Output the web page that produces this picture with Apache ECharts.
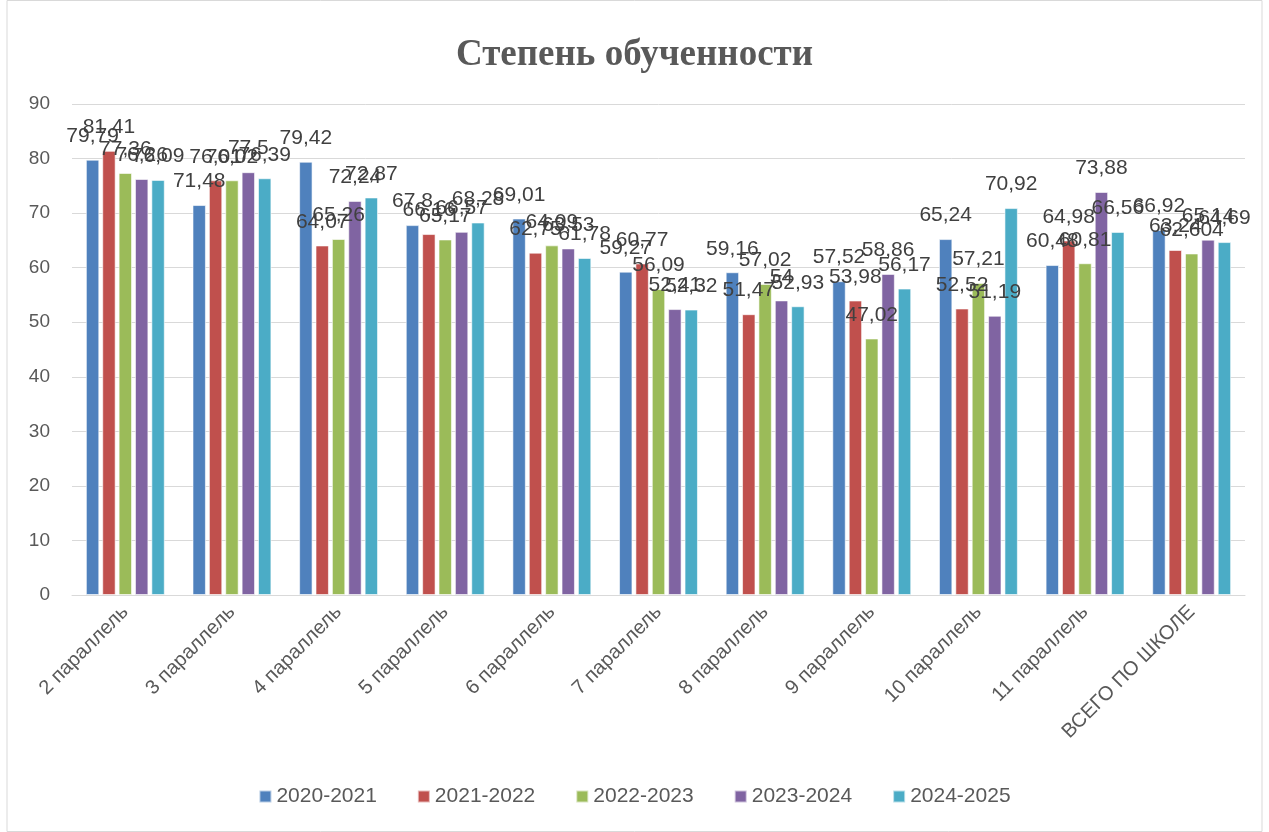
<!DOCTYPE html>
<html lang="ru">
<head>
    <meta charset="UTF-8"/>
    <script src="https://cdn.jsdelivr.net/npm/echarts@6/dist/echarts.min.js"></script>
    <title>Степень обученности</title>
    <style>
        html, body { margin: 0; padding: 0; background: #fff; }
        #chart { width: 1269px; height: 832px; }
    </style>
</head>
<body>
<div id="chart"></div>
<script type="text/javascript">
    var categories = ['2 параллель', '3 параллель', '4 параллель', '5 параллель', '6 параллель',
        '7 параллель', '8 параллель', '9 параллель', '10 параллель', '11 параллель', 'ВСЕГО ПО ШКОЛЕ'];
    var years = ['2020-2021', '2021-2022', '2022-2023', '2023-2024', '2024-2025'];
    var y2020 = [79.79, 71.48, 79.42, 67.8, 69.01, 59.27, 59.16, 57.52, 65.24, 60.48, 66.92];
    var y2021 = [81.41, 76.01, 64.07, 66.16, 62.75, 60.77, 51.47, 53.98, 52.52, 64.98, 63.24];
    var y2022 = [77.36, 76.02, 65.26, 65.17, 64.09, 56.09, 57.02, 47.02, 57.21, 60.81, 62.604];
    var y2023 = [76.26, 77.5, 72.24, 66.57, 63.53, 52.41, 54, 58.86, 51.19, 73.88, 65.14];
    var y2024 = [76.09, 76.39, 72.87, 68.28, 61.78, 52.32, 52.93, 56.17, 70.92, 66.56, 64.69];
    var colors = ['#4F81BD', '#C0504D', '#9BBB59', '#8064A2', '#4BACC6'];

    var allValues = [y2020, y2021, y2022, y2023, y2024];
    var series = [];
    for (var i = 0; i < years.length; i++) {
        series.push({
            name: years[i],
            type: 'bar',
            data: allValues[i],
            barGap: '22%',
            barCategoryGap: '26%',
            itemStyle: { color: colors[i], borderColor: 'rgba(255,255,255,0.6)', borderWidth: 1 },
            label: {
                show: true,
                position: 'top',
                distance: 13,
                fontFamily: 'Liberation Sans',
                fontSize: 21,
                color: '#404040',
                formatter: function (p) { return String(p.value).replace('.', ','); }
            }
        });
    }

    var myChart = echarts.init(document.getElementById('chart'));
    var option = {
        backgroundColor: '#fff',
        animation: false,
        color: colors,
        title: {
            text: 'Степень обученности',
            left: 'center',
            top: 32,
            textStyle: {
                fontFamily: 'Liberation Serif',
                fontWeight: 'bold',
                fontSize: 37,
                color: '#595959'
            }
        },
        graphic: [{
            type: 'rect',
            shape: { x: 7, y: 0.5, width: 1255, height: 831 },
            style: { fill: 'none', stroke: '#d9d9d9', lineWidth: 1 },
            silent: true
        }],
        legend: {
            bottom: 20,
            left: 'center',
            itemWidth: 12,
            itemHeight: 12,
            itemGap: 40,
            icon: 'rect',
            textStyle: { fontFamily: 'Liberation Sans', fontSize: 21, color: '#595959' },
            data: years
        },
        grid: { left: 72, right: 24, top: 104, bottom: 237 },
        xAxis: {
            type: 'category',
            data: categories,
            axisLine: { lineStyle: { color: '#d9d9d9', width: 1 } },
            axisTick: { show: false },
            axisLabel: {
                rotate: 45,
                interval: 0,
                margin: 14,
                fontFamily: 'Liberation Sans',
                fontSize: 20,
                color: '#595959'
            }
        },
        yAxis: {
            type: 'value',
            min: 0,
            max: 90,
            interval: 10,
            axisLine: { show: false },
            axisTick: { show: false },
            splitLine: { lineStyle: { color: '#d9d9d9', width: 1 } },
            axisLabel: { fontFamily: 'Liberation Sans', fontSize: 19, color: '#595959', margin: 22 }
        },
        series: series
    };
    myChart.setOption(option);
</script>
</body>
</html>
